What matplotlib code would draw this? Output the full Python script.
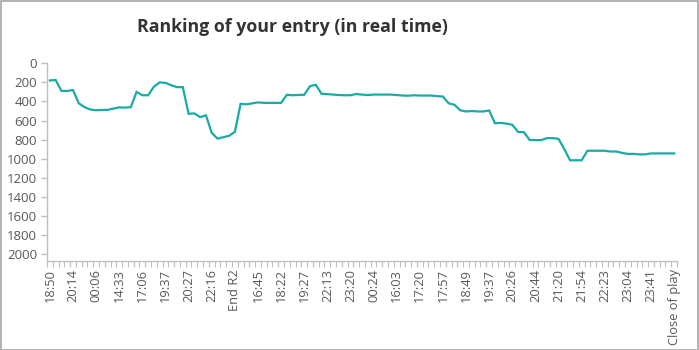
import matplotlib
matplotlib.use("Agg")
import matplotlib.pyplot as plt
from matplotlib.patches import Rectangle
from matplotlib.ticker import FixedLocator

plt.rcParams['font.family'] = ['Open Sans', 'DejaVu Sans']

tick_labels = ["18:50", "20:14", "00:06", "14:33", "17:06", "19:37", "20:27", "22:16",
               "End R2", "16:45", "18:22", "19:27", "22:13", "23:20", "00:24", "16:03",
               "17:20", "17:57", "18:49", "19:37", "20:26", "20:44", "21:20", "21:54",
               "22:23", "23:04", "23:41", "Close of play"]

ranking = [180, 175, 290, 290, 280, 420, 460, 485, 492, 490,
           488, 475, 462, 465, 460, 300, 335, 335, 245, 200,
           205, 230, 250, 250, 530, 525, 565, 545, 730, 790,
           775, 760, 720, 425, 430, 420, 410, 415, 415, 415,
           415, 330, 335, 332, 330, 240, 225, 320, 323, 328,
           333, 335, 335, 322, 328, 333, 328, 328, 328, 328,
           333, 338, 340, 335, 338, 338, 338, 345, 348, 420,
           435, 493, 505, 500, 505, 505, 495, 628, 625, 632,
           645, 720, 722, 803, 805, 805, 785, 785, 792, 900,
           1017, 1017, 1017, 917, 917, 917, 917, 925, 925, 940,
           950, 950, 955, 955, 945, 945, 945, 945, 945]

y_ticks = list(range(0, 2001, 200))
label_step = 4

W, H = 699, 350
fig = plt.figure(figsize=(W / 100, H / 100), dpi=100)
fig.patch.set_facecolor('white')
fig.patches.append(Rectangle((0.5 / W, 0.5 / H), 1 - 1.5 / W, 1 - 1.5 / H,
                             transform=fig.transFigure, fill=False,
                             edgecolor='#a6a6a6', linewidth=1.2))

ax = fig.add_axes([47 / W, 1 - 260.7 / H, (677 - 47) / W, (260.7 - 63.3) / H])
x = list(range(len(ranking)))
ax.plot(x, ranking, color='#17ACA6', linewidth=1.6, solid_joinstyle='miter')

ax.set_xlim(-0.5, len(ranking) - 0.5)
ax.set_ylim(2070, 0)
ax.set_yticks(y_ticks)
ax.set_yticklabels([str(v) for v in y_ticks])

major_pos = list(range(0, len(ranking), label_step))
ax.set_xticks(major_pos)
ax.set_xticklabels(tick_labels, rotation=90)
ax.xaxis.set_minor_locator(FixedLocator([i - 0.5 for i in range(len(ranking) + 1)]))

for s in ['top', 'right']:
    ax.spines[s].set_visible(False)
for s in ['left', 'bottom']:
    ax.spines[s].set_color('#bfbfbf')
    ax.spines[s].set_linewidth(1.0)

ax.tick_params(axis='y', length=4, width=1, color='#bfbfbf', labelcolor='#595959',
               labelsize=9.5, pad=3)
ax.tick_params(axis='x', which='major', length=0, labelcolor='#595959',
               labelsize=9.3, pad=6)
ax.tick_params(axis='x', which='minor', length=4, width=0.8, color='#bfbfbf')

fig.text(292 / W, 1 - 27 / H, "Ranking of your entry (in real time)",
         ha='center', va='center', fontsize=12.8, fontweight='bold', color='#333333')

fig.savefig('out.png', dpi=100)
